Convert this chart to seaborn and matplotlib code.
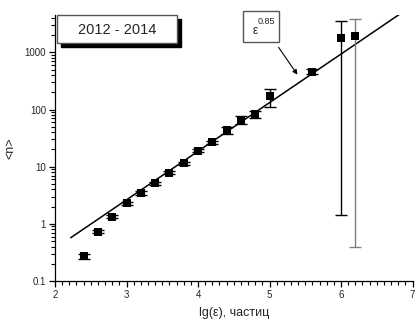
import numpy as np
import pandas as pd
import matplotlib
matplotlib.use("Agg")
import matplotlib.pyplot as plt
from matplotlib.patches import Rectangle
from matplotlib.ticker import LogLocator, NullFormatter, FixedLocator
import seaborn as sns

# Mean multiplicity <n> versus lg(ε)
lg_eps = [2.4, 2.6, 2.8, 3.0, 3.2, 3.4, 3.6, 3.8, 4.0, 4.2, 4.4, 4.6, 4.8, 5.0, 5.6, 6.0, 6.2]
n_mean = [0.27, 0.73, 1.34, 2.3, 3.5, 5.1, 7.9, 11.4, 19, 26.5, 43, 66, 82, 170, 460, 1780, 1930]
err_lo = [0.03, 0.05, 0.10, 0.15, 0.25, 0.35, 0.5, 0.8, 1.3, 2.0, 6, 10, 12, 58, 50, 1778.6, 1929.6]
err_hi = [0.03, 0.05, 0.10, 0.15, 0.25, 0.35, 0.5, 0.8, 1.3, 2.0, 6, 10, 12, 60, 50, 1770, 1870]
bar_colors = ["black"] * 16 + ["#7f7f7f"]

# Power-law fit n ~ ε^0.85
fit_slope = 0.85
fit_lg_norm = -2.13
fit_range = [2.22, 6.87]

period_label = "2012 - 2014"
x_label = "lg(ε), частиц"
y_label = "<n>"

sns.set_theme(style="ticks")
plt.rcParams["font.family"] = ["Liberation Sans", "DejaVu Sans"]

W, H = 416, 323
fig = plt.figure(figsize=(W / 100, H / 100), dpi=100)
ax = fig.add_axes([55 / W, 1 - 281 / H, (412.5 - 55) / W, (281 - 15) / H])

def fpx(x, y):
    return x / W, 1 - y / H

# fit line
fx = np.linspace(fit_range[0], fit_range[1], 50)
fit_df = pd.DataFrame({"x": fx, "y": 10 ** (fit_lg_norm + fit_slope * fx)})
sns.lineplot(data=fit_df, x="x", y="y", ax=ax, color="black", lw=1.1, zorder=2)

# error bars
for xi, yi, lo, hi, c in zip(lg_eps, n_mean, err_lo, err_hi, bar_colors):
    ax.errorbar([xi], [yi], yerr=[[lo], [hi]], fmt="none", ecolor=c,
                elinewidth=1.0, capsize=4.3, capthick=1.0, zorder=3)

df = pd.DataFrame({"x": lg_eps, "y": n_mean})
sns.scatterplot(data=df, x="x", y="y", ax=ax, marker="s", s=26, color="black",
                edgecolor="black", linewidth=0, zorder=4)

ax.set_yscale("log")
ax.set_xlim(2, 7)
ax.set_ylim(0.1, 4500)
ax.set_xticks([2, 3, 4, 5, 6, 7])
ax.xaxis.set_minor_locator(FixedLocator(np.round(np.arange(2, 7.01, 0.1), 2)))
ax.set_yticks([0.1, 1, 10, 100, 1000])
ax.set_yticklabels(["0.1", "1", "10", "100", "1000"])
ax.yaxis.set_minor_locator(LogLocator(base=10, subs=np.arange(2, 10), numticks=20))
ax.yaxis.set_minor_formatter(NullFormatter())
ax.tick_params(axis="both", which="major", length=4.5, width=0.9, labelsize=7, pad=2,
               color="black", bottom=True, left=True)
ax.tick_params(axis="both", which="minor", length=2.8, width=0.8, color="black",
               bottom=True, left=True)
ax.set_xlabel(x_label, fontsize=9, labelpad=5)
ax.set_ylabel(y_label, fontsize=9, labelpad=6)
for s in ["left", "bottom"]:
    ax.spines[s].set_linewidth(0.9)
    ax.spines[s].set_color("black")
sns.despine(ax=ax)

# period label with drop shadow
x0, y0 = fpx(57, 43)
bw, bh = 120 / W, 28 / H
sx, sy = 4 / W, 4 / H
fig.patches.append(Rectangle((x0 + sx, y0 - sy), bw, bh, transform=fig.transFigure,
                             facecolor="black", edgecolor="black", zorder=5))
fig.patches.append(Rectangle((x0, y0), bw, bh, transform=fig.transFigure,
                             facecolor="white", edgecolor="#555555", lw=1.0, zorder=6))
fig.text(*fpx(117, 30), period_label, ha="center", va="center", fontsize=10.5, zorder=7)

# exponent annotation
bx0, by0 = fpx(243, 42)
fig.patches.append(Rectangle((bx0, by0), 36 / W, 31 / H, transform=fig.transFigure,
                             facecolor="white", edgecolor="#555555", lw=1.0, zorder=6))
fig.text(*fpx(255, 31), "ε", ha="center", va="center", fontsize=8.5, zorder=7)
fig.text(*fpx(266, 21), "0.85", ha="center", va="center", fontsize=6.5, zorder=7)
ax.annotate("", xy=fpx(299, 77), xytext=fpx(277, 45), xycoords="figure fraction",
            textcoords="figure fraction",
            arrowprops=dict(arrowstyle="-|>", color="black", lw=0.8, mutation_scale=7))

fig.savefig("out.png", dpi=100)
